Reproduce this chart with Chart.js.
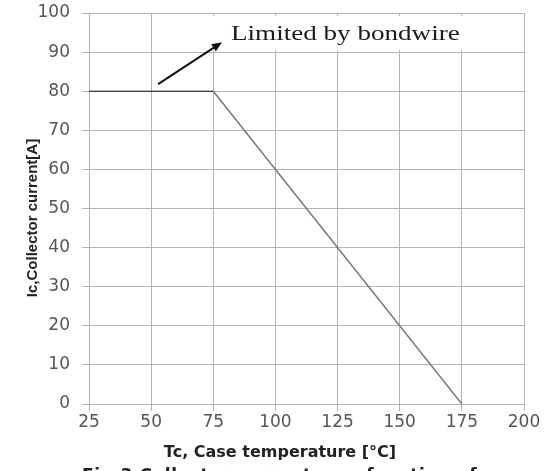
<!DOCTYPE html>
<html>
<head>
<meta charset="utf-8">
<script src="https://cdn.jsdelivr.net/npm/chart.js@4.4.1/dist/chart.umd.min.js"></script>
<style>
  html, body { margin: 0; padding: 0; background: #fff; }
  #wrap { width: 547px; height: 471px; }
</style>
</head>
<body>
<div id="wrap"><canvas id="icChart" width="547" height="471"></canvas></div>
<script>
// case temperature [°C] and collector current [A]
var tempC = [25, 75, 175];
var currentA = [80, 80, 0];

var xTicks = [25, 50, 75, 100, 125, 150, 175, 200];
var yTicks = [0, 10, 20, 30, 40, 50, 60, 70, 80, 90, 100];

// arrow tail / head, in axis units
var arrowFrom = [52.8, 81.8];
var arrowTo = [78.5, 92.5];
var noteText = "Limited by bondwire";
var xTitle = "Tc, Case temperature [\u00b0C]";
var yTitle = "Ic,Collector current[A]";
var captionText = "Fig.3 Collector current as a function of";

var gridColor = "#b4b4b4";
var tickColor = "#555";

var noteLayer = {
    id: "noteLayer",
    afterDatasetsDraw: function (chart) {
        var ctx = chart.ctx;
        var xs = chart.scales.x, ys = chart.scales.y;
        var x0 = xs.getPixelForValue(arrowFrom[0]), y0 = ys.getPixelForValue(arrowFrom[1]);
        var x1 = xs.getPixelForValue(arrowTo[0]), y1 = ys.getPixelForValue(arrowTo[1]);
        ctx.save();
        // white box behind the note hides the grid
        ctx.fillStyle = "#fff";
        ctx.fillRect(x1 - 12, chart.chartArea.top + 3, 262, 34);
        ctx.strokeStyle = "#111";
        ctx.fillStyle = "#111";
        ctx.lineWidth = 2;
        var ang = Math.atan2(y1 - y0, x1 - x0);
        var hl = 11;
        ctx.beginPath();
        ctx.moveTo(x0, y0);
        ctx.lineTo(x1 - Math.cos(ang) * hl * 0.8, y1 - Math.sin(ang) * hl * 0.8);
        ctx.stroke();
        ctx.beginPath();
        ctx.moveTo(x1, y1);
        ctx.lineTo(x1 - hl * Math.cos(ang - 0.4), y1 - hl * Math.sin(ang - 0.4));
        ctx.lineTo(x1 - hl * Math.cos(ang + 0.4), y1 - hl * Math.sin(ang + 0.4));
        ctx.closePath();
        ctx.fill();
        // note text, set wide
        ctx.save();
        ctx.translate(x1 + 9, y1 - 2);
        ctx.scale(1.29, 1);
        ctx.font = "21px 'Liberation Serif'";
        ctx.textBaseline = "alphabetic";
        ctx.textAlign = "left";
        ctx.fillStyle = "#1a1a1a";
        ctx.fillText(noteText, 0, 0);
        ctx.restore();
        // axis titles
        ctx.fillStyle = "#222";
        ctx.font = "bold 16px 'DejaVu Sans'";
        ctx.textAlign = "center";
        ctx.textBaseline = "middle";
        ctx.fillText(xTitle, 280, 453);
        ctx.save();
        ctx.translate(33, 218);
        ctx.rotate(-Math.PI / 2);
        ctx.font = "bold 15px 'Liberation Sans Narrow', 'Liberation Sans'";
        ctx.fillText(yTitle, 0, 0);
        ctx.restore();
        // figure caption, clipped by the bottom edge
        ctx.textAlign = "left";
        ctx.textBaseline = "alphabetic";
        ctx.font = "bold 17px 'DejaVu Sans'";
        ctx.letterSpacing = "0.6px";
        ctx.fillText(captionText, 82, 481);
        ctx.restore();
    }
};

var icChart = new Chart(document.getElementById("icChart"), {
    type: "line",
    data: {
        datasets: [{
            data: tempC.map(function (t, i) { return { x: t, y: currentA[i] }; }),
            borderWidth: 1.5,
            borderColor: "#777",
            segment: {
                borderColor: function (c) { return c.p0DataIndex === 0 ? "#111" : "#777"; },
                borderWidth: function (c) { return c.p0DataIndex === 0 ? 1 : 1.5; }
            },
            pointRadius: 0,
            tension: 0,
            fill: false
        }]
    },
    options: {
        responsive: false,
        animation: false,
        layout: { padding: { top: 13, right: 23, left: 0, bottom: 0 } },
        plugins: {
            legend: { display: false },
            tooltip: { enabled: false }
        },
        scales: {
            x: {
                type: "linear",
                min: 25,
                max: 200,
                afterBuildTicks: function (s) { s.ticks = xTicks.map(function (v) { return { value: v }; }); },
                afterFit: function (s) {
                    s.height = 67;
                    s.paddingLeft = 0;
                    s.paddingRight = 0;
                },
                grid: { color: gridColor, tickLength: 7 },
                border: { color: gridColor },
                ticks: {
                    color: tickColor,
                    padding: 1,
                    maxRotation: 0,
                    font: { family: "'DejaVu Sans'", size: 17 }
                }
            },
            y: {
                min: 0,
                max: 100,
                afterBuildTicks: function (s) { s.ticks = yTicks.map(function (v) { return { value: v }; }); },
                afterFit: function (s) {
                    s.width = 89;
                    s.paddingTop = 0;
                    s.paddingBottom = 0;
                },
                grid: { color: gridColor, tickLength: 7 },
                border: { color: gridColor },
                ticks: {
                    color: tickColor,
                    padding: 12,
                    font: { family: "'DejaVu Sans'", size: 17 }
                }
            }
        }
    },
    plugins: [noteLayer]
});
</script>
</body>
</html>
